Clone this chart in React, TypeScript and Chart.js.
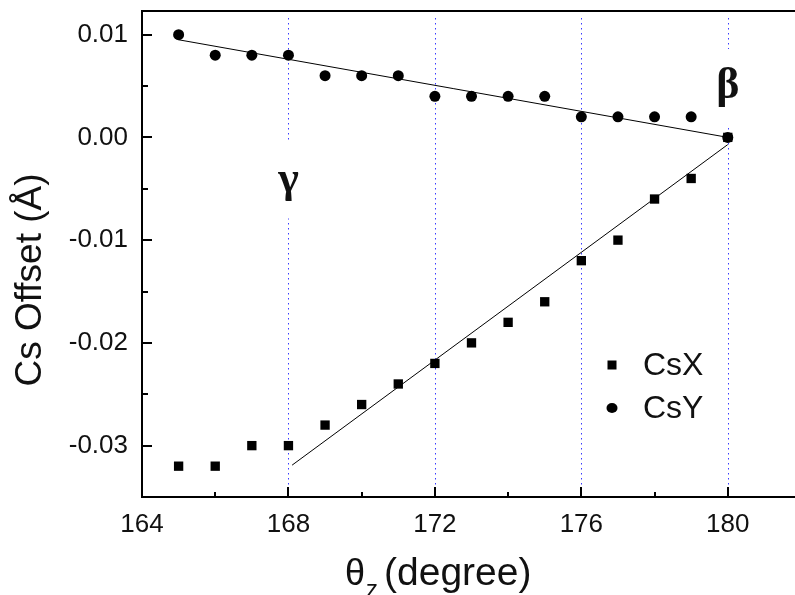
import React, { useEffect, useRef } from 'react';
import { Chart, registerables } from 'chart.js';

Chart.register(...registerables);

const thetaZ = [165, 166, 167, 168, 169, 170, 171, 172, 173, 174, 175, 176, 177, 178, 179, 180];
const csX = [-0.032, -0.032, -0.030, -0.030, -0.028, -0.026, -0.024, -0.022, -0.020, -0.018, -0.016, -0.012, -0.010, -0.006, -0.004, 0.000];
const csY = [0.010, 0.008, 0.008, 0.008, 0.006, 0.006, 0.006, 0.004, 0.004, 0.004, 0.004, 0.002, 0.002, 0.002, 0.002, 0.000];

const fitYTheta = [165, 180];
const fitYValues = [0.0095, 0.0];
const fitXTheta = [168.1, 180];
const fitXValues = [-0.0319, -0.0007];

const xMajorTicks = [164, 168, 172, 176, 180];
const xMinorTicks = [166, 170, 174, 178];
const yMajorTicks = [0.01, 0.0, -0.01, -0.02, -0.03];
const yMinorTicks = [0.005, -0.005, -0.015, -0.025];
const phaseLines = [168, 172, 176, 180];
const phaseLabels = [
  { text: 'γ', theta: 168, value: -0.0042 },
  { text: 'β', theta: 180, value: 0.0049 },
];
const legendItems = [
  { label: 'CsX', style: 'rect' },
  { label: 'CsY', style: 'circle' },
];

const SANS = '"Liberation Sans", Arial, sans-serif';
const SERIF = '"Liberation Serif", "Times New Roman", serif';

const pts = (xs: number[], ys: number[]) => xs.map((x, i) => ({ x, y: ys[i] }));

const decor = {
  id: 'decor',
  beforeDatasetsDraw(chart: any) {
    const { ctx, chartArea } = chart;
    const xs = chart.scales.x;
    const ys = chart.scales.y;
    ctx.save();
    ctx.strokeStyle = '#3a3aff';
    ctx.lineWidth = 1;
    ctx.setLineDash([1.5, 3.5]);
    phaseLines.forEach((t) => {
      const px = Math.round(xs.getPixelForValue(t)) + 0.5;
      ctx.beginPath();
      ctx.moveTo(px, chartArea.top + 7);
      ctx.lineTo(px, chartArea.bottom);
      ctx.stroke();
    });
    ctx.setLineDash([]);
    phaseLabels.forEach((l) => {
      const px = xs.getPixelForValue(l.theta);
      const py = ys.getPixelForValue(l.value);
      ctx.fillStyle = '#fff';
      ctx.fillRect(px - 14, py - 38, 28, 76);
      ctx.fillStyle = '#111';
      ctx.font = `bold 44px ${SERIF}`;
      ctx.textAlign = 'center';
      ctx.textBaseline = 'middle';
      ctx.fillText(l.text, px, py);
    });
    ctx.restore();
  },
  afterDraw(chart: any) {
    const { ctx, chartArea } = chart;
    const xs = chart.scales.x;
    const ys = chart.scales.y;
    ctx.save();
    ctx.strokeStyle = '#000';
    ctx.lineWidth = 2;
    // top border
    ctx.beginPath();
    ctx.moveTo(chartArea.left - 1, chartArea.top);
    ctx.lineTo(chartArea.right, chartArea.top);
    ctx.stroke();
    // x ticks (inward)
    const tickX = (v: number, len: number) => {
      const px = Math.round(xs.getPixelForValue(v));
      ctx.beginPath();
      ctx.moveTo(px, chartArea.bottom);
      ctx.lineTo(px, chartArea.bottom - len);
      ctx.stroke();
    };
    xMajorTicks.forEach((v) => tickX(v, 10));
    xMinorTicks.forEach((v) => tickX(v, 5));
    const tickY = (v: number, len: number) => {
      const py = Math.round(ys.getPixelForValue(v));
      ctx.beginPath();
      ctx.moveTo(chartArea.left, py);
      ctx.lineTo(chartArea.left + len, py);
      ctx.stroke();
    };
    yMajorTicks.forEach((v) => tickY(v, 10));
    yMinorTicks.forEach((v) => tickY(v, 6));

    // legend
    legendItems.forEach((it, i) => {
      const cy = 365 + i * 43;
      const cx = 612;
      ctx.fillStyle = '#000';
      if (it.style === 'rect') {
        ctx.fillRect(cx - 4.5, cy - 4.5, 9, 9);
      } else {
        ctx.beginPath();
        ctx.ellipse(cx, cy, 5.5, 5, 0, 0, Math.PI * 2);
        ctx.fill();
      }
      ctx.font = `32px ${SANS}`;
      ctx.textAlign = 'left';
      ctx.textBaseline = 'middle';
      ctx.fillStyle = '#111';
      ctx.fillText(it.label, 643, cy + 1);
    });

    // y title
    ctx.save();
    ctx.translate(31, 280);
    ctx.rotate(-Math.PI / 2);
    ctx.font = `37px ${SANS}`;
    ctx.textAlign = 'center';
    ctx.textBaseline = 'middle';
    ctx.fillStyle = '#111';
    ctx.fillText('Cs Offset (Å)', 0, 0);
    ctx.restore();

    // x title
    ctx.fillStyle = '#111';
    ctx.textAlign = 'left';
    ctx.textBaseline = 'alphabetic';
    let x = 345;
    ctx.font = `36px ${SANS}`;
    ctx.fillText('θ', x, 585);
    x += ctx.measureText('θ').width + 1;
    ctx.font = `24px ${SANS}`;
    ctx.fillText('z', x, 597);
    x += ctx.measureText('z').width + 6;
    ctx.font = `39px ${SANS}`;
    ctx.fillText('(degree)', x, 585);
    ctx.restore();
  },
};

export default function App() {
  const ref = useRef<HTMLCanvasElement>(null);
  useEffect(() => {
    document.body.style.margin = '0';
    const chart = new Chart(ref.current as HTMLCanvasElement, {
      type: 'scatter',
      data: {
        datasets: [
          {
            label: 'fitY',
            data: pts(fitYTheta, fitYValues),
            showLine: true,
            borderColor: '#000',
            borderWidth: 1,
            pointRadius: 0,
          },
          {
            label: 'fitX',
            data: pts(fitXTheta, fitXValues),
            showLine: true,
            borderColor: '#000',
            borderWidth: 1,
            pointRadius: 0,
          },
          {
            label: 'CsY',
            data: pts(thetaZ, csY),
            pointStyle: 'circle',
            pointRadius: 5.5,
            backgroundColor: '#000',
            borderColor: '#000',
            borderWidth: 0,
          },
          {
            label: 'CsX',
            data: pts(thetaZ, csX),
            pointStyle: 'rect',
            pointRadius: 6.6,
            backgroundColor: '#000',
            borderColor: '#000',
            borderWidth: 0,
          },
        ],
      } as any,
      options: {
        responsive: false,
        animation: false,
        devicePixelRatio: 1,
        layout: { padding: { top: 11, right: 29, left: 0, bottom: 0 } },
        plugins: { legend: { display: false }, tooltip: { enabled: false } },
        scales: {
          x: {
            type: 'linear',
            min: 164,
            max: 182,
            afterFit: (a: any) => { a.height = 98; a.paddingLeft = 0; a.paddingRight = 0; },
            afterBuildTicks: (a: any) => { a.ticks = xMajorTicks.map((v) => ({ value: v })); },
            grid: { display: false, drawTicks: false },
            border: { display: true, color: '#000', width: 2 },
            ticks: {
              padding: 12,
              color: '#111',
              font: { family: SANS, size: 26 },
              maxRotation: 0,
              callback: (v: any) => String(v),
            },
          },
          y: {
            type: 'linear',
            min: -0.035,
            max: 0.0123,
            afterFit: (a: any) => { a.width = 142; a.paddingTop = 0; a.paddingBottom = 0; },
            afterBuildTicks: (a: any) => { a.ticks = yMajorTicks.map((v) => ({ value: v })); },
            grid: { display: false, drawTicks: false },
            border: { display: true, color: '#000', width: 2 },
            ticks: {
              padding: 14,
              color: '#111',
              font: { family: SANS, size: 26 },
              callback: (v: any) => Number(v).toFixed(2),
            },
          },
        },
      } as any,
      plugins: [decor],
    });
    return () => chart.destroy();
  }, []);
  return (
    <div style={{ position: 'fixed', left: 0, top: 0, width: 795, height: 595, overflow: 'hidden', background: '#fff' }}>
      <canvas ref={ref} width={830} height={595} style={{ display: 'block' }} />
    </div>
  );
}
